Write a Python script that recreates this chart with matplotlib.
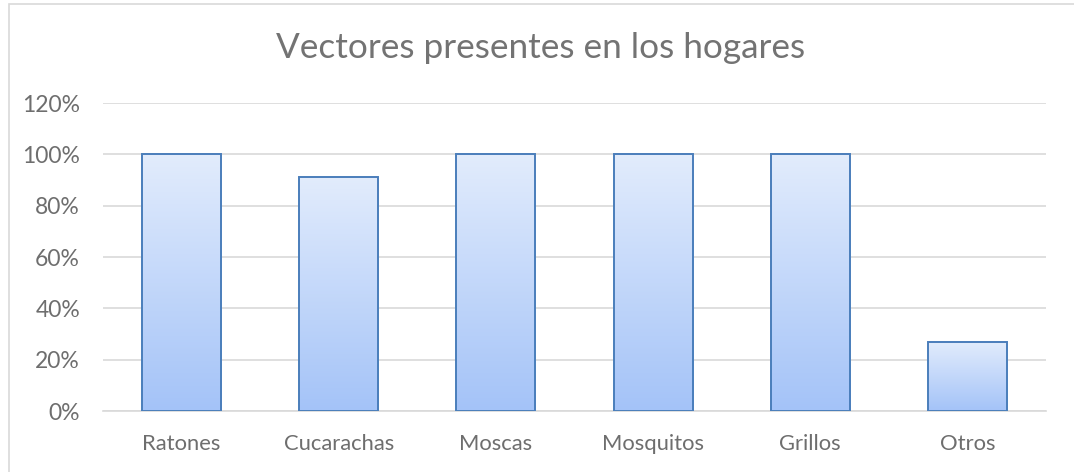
import matplotlib
matplotlib.use("Agg")
import matplotlib.pyplot as plt
import numpy as np
from matplotlib.colors import LinearSegmentedColormap
from matplotlib.patches import Rectangle

categories = ["Ratones", "Cucarachas", "Moscas", "Mosquitos", "Grillos", "Otros"]
values = [1.00, 0.91, 1.00, 1.00, 1.00, 0.27]
yticks = [0, 0.2, 0.4, 0.6, 0.8, 1.0, 1.2]
ytick_labels = ["0%", "20%", "40%", "60%", "80%", "100%", "120%"]
title = "Vectores presentes en los hogares"

plt.rcParams['font.family'] = ['Lato', 'DejaVu Sans']
text_color = "#6E6E6E"

fig = plt.figure(figsize=(10.74, 4.72), dpi=100)
fig.patches.append(Rectangle((9/1074, -0.1), 1.2, 1 - 4/472 + 0.1, transform=fig.transFigure,
                             fill=False, edgecolor="#D9D9D9", linewidth=1.2))
ax = fig.add_axes([103/1074, 1 - 411/472, (1046 - 103)/1074, (411 - 103)/472])

x = np.arange(len(categories))
bars = ax.bar(x, values, width=0.503, color="none", edgecolor="#4A7EBB", linewidth=1.4, zorder=3)

cmap = LinearSegmentedColormap.from_list("g", ["#A4C3F8", "#E2ECFC"])
grad = np.linspace(0, 1, 256).reshape(-1, 1)
for b in bars:
    x0, y0, w, h = b.get_x(), b.get_y(), b.get_width(), b.get_height()
    ax.imshow(grad, cmap=cmap, origin="lower", aspect="auto",
              extent=[x0, x0 + w, y0, y0 + h], zorder=2)

ax.set_xlim(-0.5, len(categories) - 0.5)
ax.set_ylim(0, 1.2)
ax.set_yticks(yticks)
ax.set_yticklabels(ytick_labels)
ax.set_xticks(x)
ax.set_xticklabels(categories)
ax.yaxis.grid(True, color="#D9D9D9", linewidth=1.2, zorder=0)
ax.set_axisbelow(True)
for s in ["top", "right", "left"]:
    ax.spines[s].set_visible(False)
ax.spines["bottom"].set_color("#D9D9D9")
ax.spines["bottom"].set_linewidth(1.2)
ax.tick_params(axis="both", length=0, colors=text_color)
ax.tick_params(axis="x", pad=16.5, labelsize=15.8)
ax.tick_params(axis="y", pad=16.5, labelsize=16.5)

fig.text(541/1074, 1 - 48/472, title, ha="center", va="center", fontsize=25.3, color="#737373")

fig.savefig("out.png", dpi=100)
